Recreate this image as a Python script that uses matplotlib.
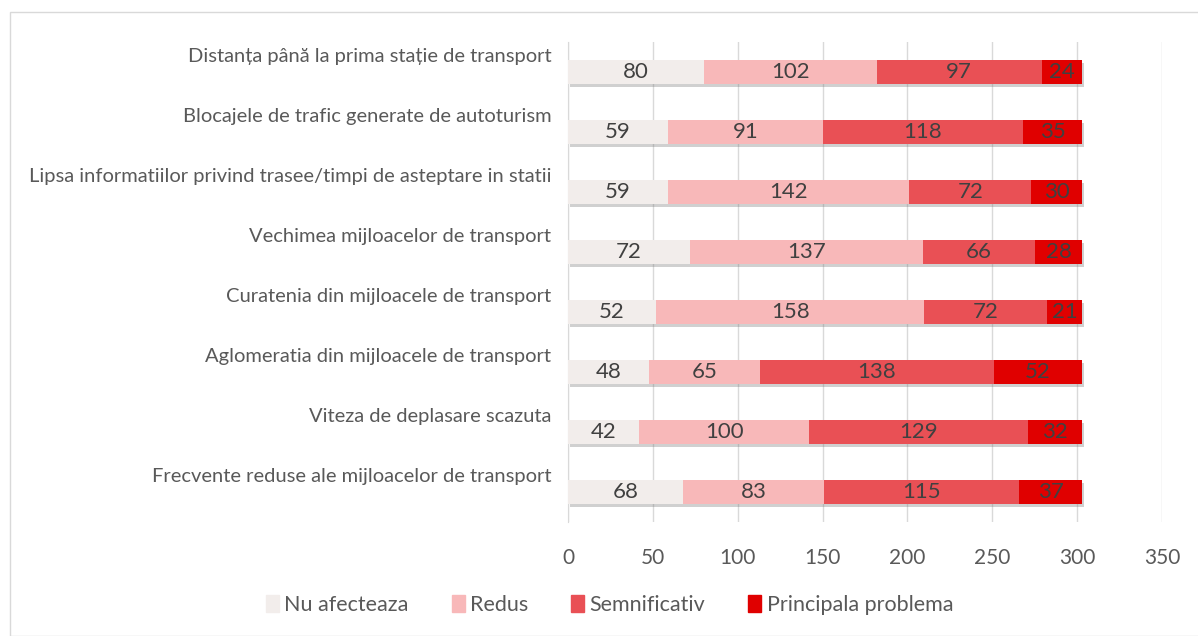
import matplotlib
matplotlib.use("Agg")
import matplotlib.pyplot as plt
import matplotlib.patheffects as pe
from matplotlib.transforms import ScaledTranslation
from matplotlib.patches import Rectangle
import numpy as np

categories = [
    "Distanța până la prima stație de transport",
    "Blocajele de trafic generate de autoturism",
    "Lipsa informatiilor privind trasee/timpi de asteptare in statii",
    "Vechimea mijloacelor de transport",
    "Curatenia din mijloacele de transport",
    "Aglomeratia din mijloacele de transport",
    "Viteza de deplasare scazuta",
    "Frecvente reduse ale mijloacelor de transport",
]
nu_afecteaza = [80, 59, 59, 72, 52, 48, 42, 68]
redus = [102, 91, 142, 137, 158, 65, 100, 83]
semnificativ = [97, 118, 72, 66, 72, 138, 129, 115]
principala = [24, 35, 30, 28, 21, 52, 32, 37]

series_names = ["Nu afecteaza", "Redus", "Semnificativ", "Principala problema"]
series_values = [nu_afecteaza, redus, semnificativ, principala]
colors = ["#F2EDEB", "#F8B8B9", "#E95055", "#E00000"]
x_ticks = [0, 50, 100, 150, 200, 250, 300, 350]

plt.rcParams["font.family"] = ["Lato", "DejaVu Sans"]

fig = plt.figure(figsize=(11.98, 6.36), dpi=100)
ax = fig.add_axes([568 / 1198, 1 - 522 / 636, (1162 - 568) / 1198, (522 - 42) / 636])

# chart frame
fig.patches.append(Rectangle((10 / 1198, 0), 1.2, 1 - 12 / 636, transform=fig.transFigure,
                             fill=False, edgecolor="#D9D9D9", linewidth=1.0))

y = np.arange(len(categories))
left = np.zeros(len(categories))
shadow = [pe.SimplePatchShadow(offset=(1.5, -2.5), shadow_rgbFace="#7a7a7a", alpha=0.35), pe.Normal()]
handles = []
for name, vals, col in zip(series_names, series_values, colors):
    vals = np.array(vals, dtype=float)
    bars = ax.barh(y, vals, left=left, height=0.4, color=col, zorder=3)
    for b in bars:
        b.set_path_effects(shadow)
    handles.append(Rectangle((0, 0), 1, 1, color=col, label=name))
    for yi, l, v in zip(y, left, vals):
        ax.text(l + v / 2, yi, f"{int(v)}", ha="center", va="center",
                fontsize=16, color="#404040", zorder=4)
    left += vals

ax.set_ylim(len(categories) - 0.5, -0.5)
ax.set_xlim(0, 350)
ax.set_xticks(x_ticks)
ax.set_yticks(y)
ax.set_yticklabels(categories)
ax.tick_params(axis="y", length=0, pad=12, labelsize=14.5, labelcolor="#595959")
ax.tick_params(axis="x", length=0, pad=19, labelsize=15, labelcolor="#595959")
offset = ScaledTranslation(0, 0.17, fig.dpi_scale_trans)
for lab in ax.get_yticklabels():
    lab.set_transform(lab.get_transform() + offset)

ax.grid(axis="x", color="#D9D9D9", linewidth=1.0, zorder=0)
for side in ["top", "right", "bottom"]:
    ax.spines[side].set_visible(False)
ax.spines["left"].set_color("#D9D9D9")

ax.legend(handles=handles, loc="center", bbox_to_anchor=(0.07, -0.173), ncol=4, frameon=False,
          fontsize=15.5, labelcolor="#595959", handlelength=0.6, handleheight=0.8,
          handletextpad=0.25, columnspacing=2.0)

fig.savefig("out.png", dpi=100)
